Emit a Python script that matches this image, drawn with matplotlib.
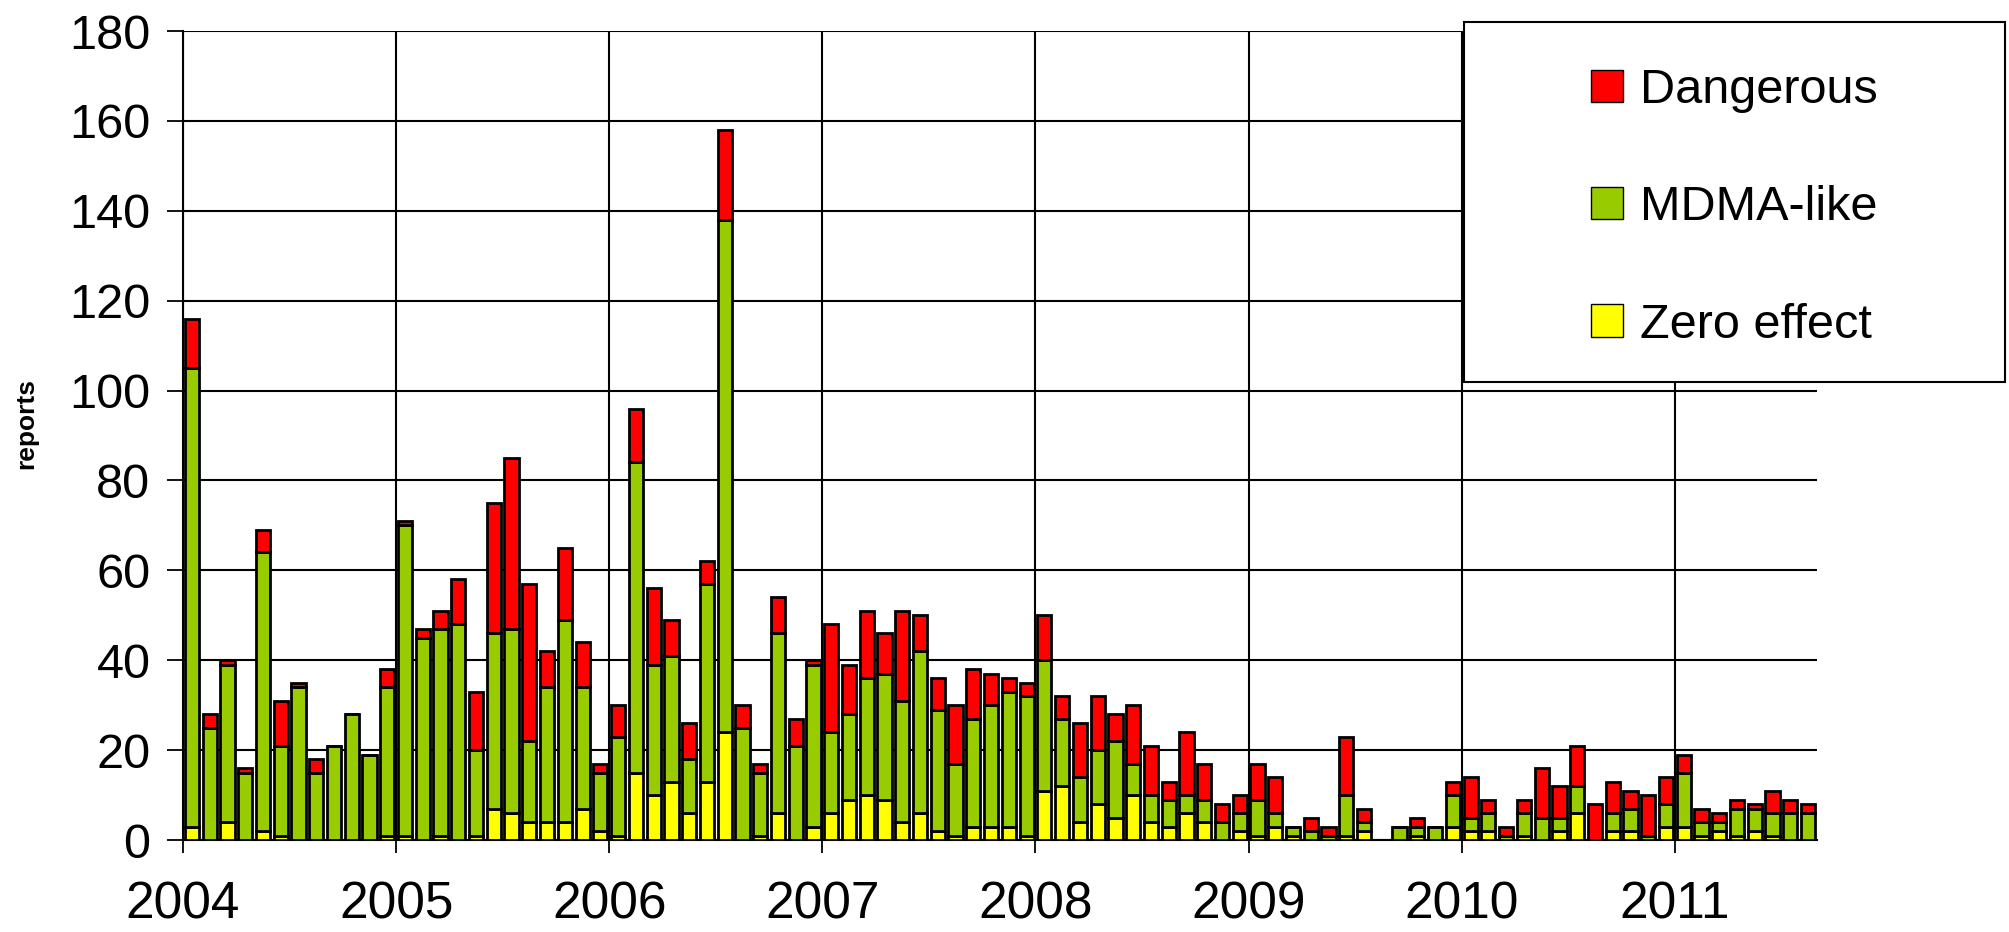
import matplotlib
matplotlib.use("Agg")
import matplotlib.pyplot as plt
from matplotlib.patches import Rectangle, Patch
import numpy as np

plt.rcParams['font.family'] = ['Liberation Sans', 'DejaVu Sans']

# monthly reports, Jan 2004 - Aug 2011
zero_effect = [3, 0, 4, 0, 2, 1, 0, 0, 0, 0, 0, 1,
               1, 0, 1, 0, 1, 7, 6, 4, 4, 4, 7, 2,
               1, 15, 10, 13, 6, 13, 24, 0, 1, 6, 0, 3,
               6, 9, 10, 9, 4, 6, 2, 1, 3, 3, 3, 1,
               11, 12, 4, 8, 5, 10, 4, 3, 6, 4, 0, 2,
               1, 3, 1, 0, 0, 1, 2, 0, 0, 1, 0, 3,
               2, 2, 0, 1, 0, 2, 6, 0, 2, 2, 0, 3,
               3, 1, 2, 1, 2, 1, 0, 0]
mdma_like = [102, 25, 35, 15, 62, 20, 34, 15, 21, 28, 19, 33,
             69, 45, 46, 48, 19, 39, 41, 18, 30, 45, 27, 13,
             22, 69, 29, 28, 12, 44, 114, 25, 14, 40, 21, 36,
             18, 19, 26, 28, 27, 36, 27, 16, 24, 27, 30, 31,
             29, 15, 10, 12, 17, 7, 6, 6, 4, 5, 4, 4,
             8, 3, 2, 2, 1, 9, 2, 0, 3, 2, 3, 7,
             3, 4, 1, 5, 5, 3, 6, 0, 4, 5, 1, 5,
             12, 3, 2, 6, 5, 5, 6, 6]
dangerous = [11, 3, 1, 1, 5, 10, 1, 3, 0, 0, 0, 4,
             1, 2, 4, 10, 13, 29, 38, 35, 8, 16, 10, 2,
             7, 12, 17, 8, 8, 5, 20, 5, 2, 8, 6, 1,
             24, 11, 15, 9, 20, 8, 7, 13, 11, 7, 3, 3,
             10, 5, 12, 12, 6, 13, 11, 4, 14, 8, 4, 4,
             8, 8, 0, 3, 2, 13, 3, 0, 0, 2, 0, 3,
             9, 3, 2, 3, 11, 7, 9, 8, 7, 4, 9, 6,
             4, 3, 2, 2, 1, 5, 3, 2]
years = ['2004', '2005', '2006', '2007', '2008', '2009', '2010', '2011']

c_red = '#FF0000'
c_green = '#99CC00'
c_yellow = '#FFFF00'

z = np.array(zero_effect)
m = np.array(mdma_like)
d = np.array(dangerous)
x = np.arange(len(z)) + 0.5

fig = plt.figure(figsize=(20.09, 9.32), dpi=100)
ax = fig.add_axes([0.0911, 0.0987, 0.8133, 0.868])

kw = dict(width=0.8, edgecolor='black', linewidth=2, zorder=3)
ax.bar(x, z, color=c_yellow, **kw)
ax.bar(x, m, bottom=z, color=c_green, **kw)
ax.bar(x, d, bottom=z + m, color=c_red, **kw)

ax.set_xlim(0, len(z))
ax.set_ylim(0, 180)
ax.set_yticks(np.arange(0, 181, 20))
ax.set_xticks(np.arange(0, len(years) * 12, 12))
ax.set_xticklabels(years)
ax.tick_params(axis='y', labelsize=35, length=11.5, width=1.3, pad=12)
ax.tick_params(axis='x', labelsize=37, length=9, width=1.3, pad=20)
ax.grid(True, color='black', linewidth=1.5, zorder=0)
for s in ['top', 'right']:
    ax.spines[s].set_visible(False)
ax.spines['left'].set_linewidth(1.5)
ax.spines['bottom'].set_linewidth(1.5)
ax.set_ylabel('reports', fontsize=19, fontweight='bold')
ax.yaxis.set_label_coords(-0.0884, 0.515)

# legend box
fig.patches.append(Rectangle((0.7287, 0.59), 0.2693, 0.386, transform=fig.transFigure,
                             facecolor='white', edgecolor='black', linewidth=1.5, zorder=5))
handles = [Patch(facecolor=c_red, edgecolor='black'),
           Patch(facecolor=c_green, edgecolor='black'),
           Patch(facecolor=c_yellow, edgecolor='black')]
leg = fig.legend(handles, ['Dangerous', 'MDMA-like', 'Zero effect'],
                 loc='center', bbox_to_anchor=(0.8633, 0.777), frameon=False,
                 fontsize=35, handlelength=0.65, handleheight=0.65,
                 handletextpad=0.35, labelspacing=1.49)
leg.set_zorder(6)

fig.savefig('out.png', dpi=100)
